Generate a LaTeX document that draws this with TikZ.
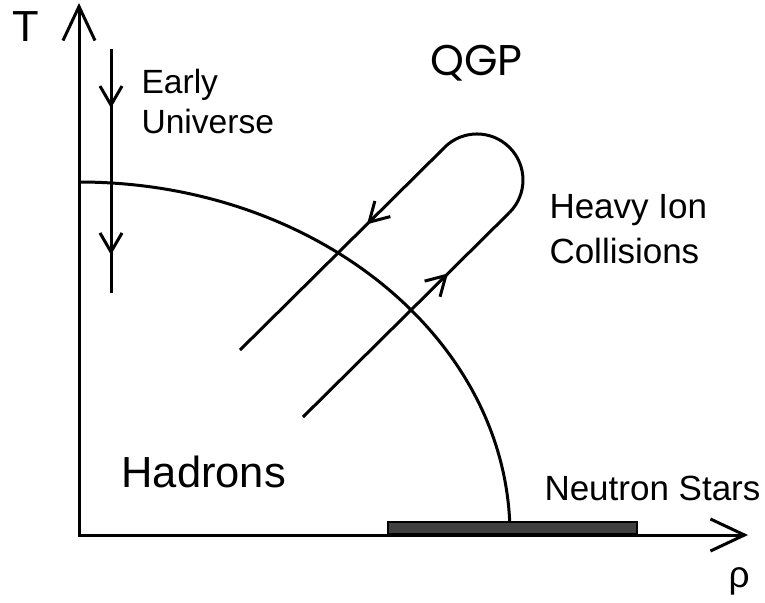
\documentclass[tikz,border=0pt]{standalone}
\usepackage{fontspec}
\setmainfont{Liberation Sans}
\newfontfamily\qgpfont{Poppins}
\usetikzlibrary{arrows.meta,decorations.markings}

\begin{document}
\begin{tikzpicture}[
  x=0.5pt, y=0.5pt,
  line width=1.5pt,
  flowtip/.tip={Straight Barb[length=9.5pt,width=11pt]},
  axis/.style={{Straight Barb[length=17pt,width=16pt]}-{Straight Barb[length=17pt,width=16pt]}},
  flow/.style={postaction={decorate}, decoration={markings, mark=at position #1 with {\arrow{flowtip}}}},
  lbl/.style={inner sep=0pt, anchor=base west},
  bigtext/.style={lbl, font=\fontsize{21.75}{26}\selectfont},
  twoline/.style={inner sep=0pt, anchor=north west, align=left},
  nsbar/.style={draw, line width=1pt, fill=black!75, inner sep=0pt, minimum width=124.5pt, minimum height=6pt, anchor=south west}
]
\useasboundingbox (0,0) rectangle (765,602);

\coordinate (origin) at (79,67);
\coordinate (ttip) at (79,599);
\coordinate (rhotip) at (748,67);
\coordinate (tc) at (79,420);
\coordinate (eutop) at (111,553);
\coordinate (eubot) at (111,309);
\coordinate (hilo) at (303,185);
\coordinate (hiturn) at (509.5,389.5);
\coordinate (hiback) at (444.5,454.5);
\coordinate (hiup) at (240,252);

% axes and phase boundary
\draw[axis] (ttip) -- (origin) -- (rhotip);
\draw (tc) arc[start angle=90, end angle=0, x radius=431, y radius=353];
\node[nsbar] (nstar) at (387,67) {};

% trajectories
\draw[postaction={decorate}, decoration={markings,
    mark=at position 0.242 with {\arrow{flowtip}},
    mark=at position 0.844 with {\arrow{flowtip}}}] (eutop) -- (eubot);
\draw[flow=0.702] (hilo) -- (hiturn);
\draw (hiturn) arc[start angle=-45, end angle=135, radius=46];
\draw[flow=0.379] (hiback) -- (hiup);

% labels
\node[bigtext] (tlabel) at (11,561) {T};
\node[lbl, font=\fontsize{18.5}{20}\selectfont] (rholabel) at (727,15) {ρ};
\node[twoline, font=\fontsize{16.8}{20}\selectfont] (early) at (140,534) {Early\\Universe};
\node[lbl, font=\qgpfont\fontsize{21.5}{26}\selectfont] (qgp) at (429,527) {QGP};
\node[twoline, font=\fontsize{17.5}{22.5}\selectfont] (heavy) at (548,409) {Heavy Ion\\Collisions};
\node[lbl, font=\fontsize{17.5}{20}\selectfont] (nstars) at (543,102) {Neutron Stars};
\node[bigtext] (hadrons) at (120,115) {Hadrons};
\end{tikzpicture}
\end{document}
